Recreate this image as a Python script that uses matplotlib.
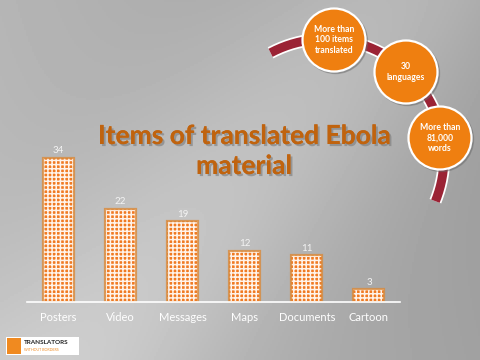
import numpy as np
import matplotlib
matplotlib.use("Agg")
import matplotlib.pyplot as plt
import matplotlib.patches as mpatches
import matplotlib.patheffects as pe

categories = ["Posters", "Video", "Messages", "Maps", "Documents", "Cartoon"]
values = [34, 22, 19, 12, 11, 3]
bubbles = ["More than\n100 items\ntranslated", "30\nlanguages", "More than\n81,000\nwords"]

plt.rcParams['font.family'] = ['Lato', 'DejaVu Sans']
plt.rcParams['hatch.linewidth'] = 1.1

fig = plt.figure(figsize=(4.8, 3.6), dpi=100)

# background gradient
bg = fig.add_axes([0, 0, 1, 1])
yy, xx = np.mgrid[0:1:180j, 0:1:240j]
band = np.exp(-((xx * 0.9 + yy * 0.6) - 0.75) ** 2 / 0.08)
shade = 0.71 - 0.10 * xx + 0.02 * yy + 0.09 * band
bg.imshow(shade, cmap="gray", vmin=0, vmax=1, extent=[0, 480, 360, 0], aspect="auto")
bg.set_xlim(0, 480)
bg.set_ylim(360, 0)
bg.axis("off")

# bar chart
ax = fig.add_axes([27 / 480, 58 / 360, 373 / 480, 170 / 360])
ax.patch.set_alpha(0)
x = np.arange(len(categories))
ax.bar(x, values, width=0.5, color="#f07a22", edgecolor="#fff3ea", hatch="++++", linewidth=0)
ax.bar(x, values, width=0.5, facecolor="none", edgecolor="#d98a3c", linewidth=1.6, alpha=0.8)
for xi, v in zip(x, values):
    ax.text(xi, v + 0.6, str(v), ha="center", va="bottom", color="#f4f4f4", fontsize=7)
ax.set_xlim(-0.5, 5.5)
ax.set_ylim(0, 40)
ax.set_xticks(x)
ax.set_xticklabels(categories, color="white", fontsize=8)
ax.tick_params(axis="x", length=0, pad=7)
ax.set_yticks([])
for s in ["top", "left", "right"]:
    ax.spines[s].set_visible(False)
ax.spines["bottom"].set_color("white")
ax.spines["bottom"].set_linewidth(1.2)

# overlay in pixel coordinates
ov = fig.add_axes([0, 0, 1, 1])
ov.set_xlim(0, 480)
ov.set_ylim(360, 0)
ov.axis("off")
ov.patch.set_alpha(0)

shadow = [pe.withSimplePatchShadow(offset=(1.5, -1.5), shadow_rgbFace="#7a7a7a", alpha=0.6), pe.Normal()]
ov.text(244, 136, "Items of translated Ebola", ha="center", va="center", fontsize=19,
        fontweight="bold", color="#c0630e", path_effects=shadow)
ov.text(244, 166, "material", ha="center", va="center", fontsize=19,
        fontweight="bold", color="#c0630e", path_effects=shadow)

# ring arc
th = np.linspace(np.radians(118), np.radians(-22), 200)
cx, cy, R = 326, 157, 118
ov.plot(cx + R * np.cos(th), cy - R * np.sin(th), color="white", lw=9, solid_capstyle="butt", zorder=1)
ov.plot(cx + R * np.cos(th), cy - R * np.sin(th), color="#9b2335", lw=6.5, solid_capstyle="butt", zorder=1.1)

centers = [(334, 40), (406, 72), (440, 138)]
for (bx, by), t in zip(centers, bubbles):
    ov.add_patch(mpatches.Circle((bx + 1.5, by + 1.5), 32, color="#6a6a6a", alpha=0.4, zorder=2))
    ov.add_patch(mpatches.Circle((bx, by), 31.5, facecolor="#ef7f10", edgecolor="white", linewidth=1.6, zorder=3))
    ov.text(bx, by, t, ha="center", va="center", color="white", fontsize=6.2,
            fontweight="bold", linespacing=1.15, zorder=4)

# logo
ov.add_patch(mpatches.Rectangle((6, 337), 73, 18, facecolor="white", edgecolor="none"))
ov.add_patch(mpatches.Rectangle((7, 338), 14, 16, facecolor="#f08a20", edgecolor="none"))
ov.text(24, 343, "TRANSLATORS", fontsize=4.6, fontweight="bold", color="#222222", va="center")
ov.text(24, 350, "WITHOUT BORDERS", fontsize=2.6, color="#f08a20", va="center")

fig.savefig("out.png", dpi=100)
